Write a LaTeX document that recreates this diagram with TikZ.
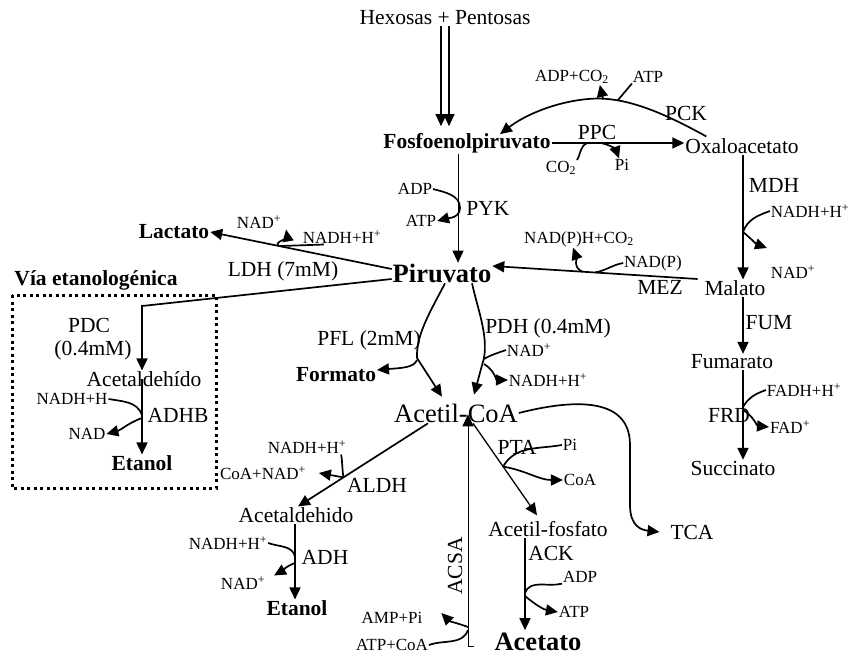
\documentclass[tikz,border=0pt]{standalone}
\usepackage{fontspec}
\setmainfont{Liberation Serif}
\usetikzlibrary{arrows.meta,calc}
\begin{document}
\begin{tikzpicture}[x=1pt,y=-1pt,
  every node/.style={inner sep=1pt, outer sep=0pt},
  lab/.style={font=\fontsize{21.5}{23}\selectfont},
  labb/.style={font=\fontsize{21.5}{23}\selectfont\bfseries},
  big/.style={font=\fontsize{26.5}{28}\selectfont\bfseries},
  bigr/.style={font=\fontsize{26.5}{28}\selectfont},
  sm/.style={font=\fontsize{17}{18}\selectfont},
  ln/.style={line width=1.7pt},
  thinln/.style={line width=1pt},
  tip/.style={-{Triangle[length=12pt,width=11pt]}},
  arr/.style={ln,tip},
  dotbox/.style={line width=3pt,dash pattern=on 3pt off 3.5pt}
]
\useasboundingbox (0,0) rectangle (852,656);

% ---------- text nodes ----------
\node[lab] (hex) at (445,18) {Hexosas + Pentosas};
\node[labb] (pep) at (467,143) {Fosfoenolpiruvato};
\node[lab] (oaa) at (742,146) {Oxaloacetato};
\node[sm] (adpco2) at (572,77) {ADP+CO\textsubscript{2}};
\node[sm] (atp1) at (648,77) {ATP};
\node[lab] (pck) at (686,113) {PCK};
\node[lab] (ppc) at (597,132) {PPC};
\node[sm] (co2) at (561,168) {CO\textsubscript{2}};
\node[sm] (pi1) at (622,165) {Pi};
\node[lab] (mdh) at (774,185) {MDH};
\node[sm] (nadh1) at (810,211) {NADH+H\textsuperscript{+}};
\node[sm] (nad1) at (793,272) {NAD\textsuperscript{+}};
\node[lab] (malato) at (735,288) {Malato};
\node[lab] (mez) at (660,287) {MEZ};
\node[sm] (nadp) at (653,263) {NAD(P)};
\node[sm] (nadph) at (579,239) {NAD(P)H+CO\textsubscript{2}};
\node[big] (pir) at (442,273) {Piruvato};
\node[lab] (pyk) at (488,208) {PYK};
\node[sm] (adp1) at (415,189) {ADP};
\node[sm] (atp2) at (421,221) {ATP};
\node[labb] (lactato) at (174,232) {Lactato};
\node[sm] (nad2) at (259,222) {NAD\textsuperscript{+}};
\node[sm] (nadh2) at (342,237) {NADH+H\textsuperscript{+}};
\node[lab] (ldh) at (283,271) {LDH (7mM)};
\node[labb] (via) at (96,280) {Vía etanologénica};
\node[lab] (pdc) at (89,325) {PDC};
\node[lab] (pdcc) at (93,350) {(0.4mM)};
\node[lab] (acetald1) at (144,379) {Acetaldehído};
\node[sm] (nadh3) at (72,399) {NADH+H};
\node[lab] (adhb) at (178,415) {ADHB};
\node[sm] (nad3) at (87,434) {NAD};
\node[labb] (etanol1) at (142,463) {Etanol};
\node[lab] (fum) at (769,323) {FUM};
\node[lab] (fumarato) at (732,362) {Fumarato};
\node[lab] (frd) at (729,415) {FRD};
\node[sm] (fadh) at (804,390) {FADH+H\textsuperscript{+}};
\node[sm] (fad) at (790,427) {FAD\textsuperscript{+}};
\node[lab] (succinato) at (733,468) {Succinato};
\node[lab] (pfl) at (369,340) {PFL (2mM)};
\node[labb] (formato) at (336,375) {Formato};
\node[lab] (pdh) at (548,328) {PDH (0.4mM)};
\node[sm] (nad4) at (529,350) {NAD\textsuperscript{+}};
\node[sm] (nadh4) at (548,380) {NADH+H\textsuperscript{+}};
\node[bigr] (acetilcoa) at (456,413) {Acetil-CoA};
\node[lab] (tca) at (692,532) {TCA};
\node[lab] (pta) at (517,447) {PTA};
\node[sm] (pi2) at (570,445) {Pi};
\node[sm] (coa) at (580,480) {CoA};
\node[lab] (acetilfos) at (548,529) {Acetil-fosfato};
\node[lab] (ack) at (551,553) {ACK};
\node[sm] (adp2) at (580,577) {ADP};
\node[sm] (atp3) at (574,612) {ATP};
\node[big] (acetato) at (538,642) {Acetato};
\node[lab,rotate=90] (acsa) at (455,566) {ACSA};
\node[sm] (ampPi) at (392,618) {AMP+Pi};
\node[sm] (atpcoa) at (392,645) {ATP+CoA};
\node[sm] (nadh5) at (307,447) {NADH+H\textsuperscript{+}};
\node[sm] (coanad) at (263,473) {CoA+NAD\textsuperscript{+}};
\node[lab] (aldh) at (377,485) {ALDH};
\node[lab] (acetald2) at (296,515) {Acetaldehido};
\node[lab] (adh) at (325,557) {ADH};
\node[sm] (nadh6) at (228,543) {NADH+H\textsuperscript{+}};
\node[sm] (nad6) at (243,583) {NAD\textsuperscript{+}};
\node[labb] (etanol2) at (297,608) {Etanol};

% ---------- dotted box ----------
\draw[dotbox] (12,295) rectangle (216,488);

% ---------- Hexosas -> PEP ----------
\draw[line width=1.3pt,tip] ([xshift=-4pt]hex.south) -- ($([xshift=-4pt]hex.south |- pep.north)+(0,-6)$);
\draw[line width=1.3pt,tip] ([xshift=4pt]hex.south) -- ($([xshift=4pt]hex.south |- pep.north)+(0,-6)$);

% ---------- PEP -> OAA (PPC) ----------
\coordinate (ppcE) at (pep.east -| oaa.west);
\draw[arr] (pep.east) -- (ppcE);
\coordinate (ppc1) at ($(pep.east)!0.27!(ppcE)$);
\coordinate (ppc2) at ($(pep.east)!0.37!(ppcE)$);
\draw[ln] (co2.north east) to[out=60,in=200] (ppc1);
\draw[arr] (ppc2) to[out=-10,in=110] ([xshift=-3pt]pi1.north);

% ---------- PCK ----------
\coordinate (pckS) at ([xshift=22pt,yshift=1pt]oaa.north west);
\coordinate (pckA) at (603,99);
\coordinate (pckB) at (618,100);
\draw[arr] (pckS) .. controls (655,108) and (620,96) .. (588,99)
  .. controls (555,102) and (525,115) .. ([xshift=33pt,yshift=-2pt]pep.north);
\draw[ln] (atp1.south west) -- (pckB);
\draw[arr] (pckA) -- ([xshift=-10pt]adpco2.south east);

% ---------- PYK ----------
\coordinate (pykTop) at ([xshift=-9pt]pep.south);
\coordinate (pykJ) at ([xshift=2pt]pykTop |- pyk.west);
\draw[thinln,tip] (pykTop) -- (pykTop |- pir.north);
\draw[arr] (adp1.east) to[out=-15,in=90] (pykJ) to[out=-90,in=15] (atp2.east);

% ---------- LDH ----------
\coordinate (ldhS) at ([yshift=4pt]pir.west);
\draw[arr] (ldhS) -- (lactato.east);
\coordinate (ldhJ) at ($(ldhS)!0.62!(lactato.east)$);
\draw[ln] (ldhJ) -- ([xshift=22pt]nadh2.south west);
\draw[arr] (ldhJ) to[out=160,in=-80] ([xshift=4pt]nad2.south east);

% ---------- PDC / ADHB ----------
\coordinate (pdcK) at (142,306);
\draw[arr] ([yshift=-6pt]pir.west) -- (pdcK) -- (pdcK |- acetald1.north);
\draw[arr] (pdcK |- acetald1.center) -- (pdcK |- etanol1.north);
\coordinate (adhbJ) at (pdcK |- adhb.west);
\draw[ln] (nadh3.east) to[out=-10,in=110] (adhbJ);
\draw[arr] ([yshift=-3pt]adhbJ) to[out=200,in=15] (nad3.east);

% ---------- MDH / FUM / FRD ----------
\coordinate (colR) at (743,0);
\draw[arr] (oaa.south -| colR) -- (malato.north -| colR);
\coordinate (mdhJ) at (743,232);
\draw[ln] (nadh1.west) to[out=200,in=70] (mdhJ);
\draw[arr] (mdhJ) to[out=-40,in=160] ([xshift=-26pt,yshift=24pt]nad1.center);
\draw[arr] (malato.south -| colR) -- (fumarato.north -| colR);
\draw[arr] (fumarato.south -| colR) -- (succinato.north -| colR);
\coordinate (frdJ) at (743,407);
\draw[ln] (fadh.west) to[out=200,in=60] (frdJ);
\draw[arr] ([yshift=-3pt]frdJ) to[out=-30,in=175] (fad.west);

% ---------- MEZ ----------
\coordinate (mezS) at ([xshift=-6pt,yshift=9pt]malato.west);
\coordinate (mezE) at ([yshift=7pt]pir.east);
\draw[arr] (mezS) -- (mezE);
\coordinate (mezJ) at ($(mezS)!0.5!(mezE)$);
\coordinate (mezJ2) at ($(mezS)!0.56!(mezE)$);
\draw[ln] (nadp.west) to[out=190,in=10] (mezJ);
\draw[arr] (mezJ2) to[out=160,in=-70] ([xshift=-6pt]nadph.south);

% ---------- PFL / PDH ----------
\coordinate (pflS) at ([xshift=3pt]pir.south);
\coordinate (pflJ) at (417,358);
\draw[ln] (pflS) .. controls (430,312) and (416,335) .. (pflJ);
\draw[arr] (pflJ) -- ([xshift=-14pt,yshift=6pt]acetilcoa.north);
\draw[arr] ([yshift=-2pt]pflJ) .. controls (414,368) and (400,368) .. ([yshift=5pt]formato.east);
\coordinate (pdhS) at ([xshift=30pt]pir.south);
\coordinate (pdhJ) at (484,358);
\draw[ln] (pdhS) .. controls (478,310) and (488,335) .. (pdhJ);
\draw[arr] (pdhJ) -- ([xshift=18pt,yshift=8pt]acetilcoa.north);
\draw[ln] (nad4.west) to[out=200,in=30] ([yshift=-1pt]pdhJ);
\draw[arr] ([yshift=-6pt]pdhJ) to[out=-30,in=180] (nadh4.west);

% ---------- TCA ----------
\draw[arr] (acetilcoa.east) .. controls (570,400) and (630,395) .. (630,445)
  -- (630,505) .. controls (630,527) and (642,530) .. ([xshift=-10pt]tca.west);

% ---------- ALDH / ADH ----------
\coordinate (aldhS) at ([xshift=-28pt]acetilcoa.south);
\coordinate (aldhE) at ([xshift=2pt]acetald2.north);
\draw[arr] (aldhS) -- (aldhE);
\coordinate (aldhJ) at ($(aldhS)!0.65!(aldhE)$);
\draw[ln] ([xshift=-6pt]nadh5.south east) to[out=-80,in=100] (aldhJ);
\draw[arr] (aldhJ) to[out=170,in=-10] ([xshift=12pt]coanad.east);
\coordinate (colA) at (295,0);
\draw[arr] (acetald2.south -| colA) -- (etanol2.north -| colA);
\coordinate (adhJ) at (295,557);
\draw[ln] (nadh6.east) to[out=-20,in=100] (adhJ);
\draw[arr] ([yshift=-6pt]adhJ) to[out=200,in=30] ([xshift=8pt]nad6.north east);

% ---------- PTA / ACK ----------
\coordinate (ptaS) at ([xshift=17pt]acetilcoa.south);
\coordinate (ptaE) at ([xshift=-11pt,yshift=5pt]acetilfos.north);
\draw[line width=1.3pt,tip] (ptaS) -- (ptaE);
\coordinate (ptaJ) at ($(ptaS)!0.47!(ptaE)$);
\draw[ln] (pi2.west) to[out=190,in=60] (ptaJ);
\draw[arr] (ptaJ) to[out=-10,in=180] (coa.west);
\coordinate (colK) at (525,0);
\draw[arr] (acetilfos.south -| colK) -- ($(acetato.north -| colK)+(0,-2)$);
\coordinate (ackJ) at (525,593);
\draw[ln] (adp2.south west) to[out=195,in=70] (ackJ);
\draw[arr] ([yshift=-3pt]ackJ) to[out=-40,in=170] (atp3.west);

% ---------- ACSA ----------
\coordinate (acsaC) at (468,646);
\draw[thinln,tip] ([xshift=-20pt,yshift=-4pt]acetato.west) -- (acsaC) -- ($(acsaC |- acetilcoa.south)+(0,-9)$);
\coordinate (acsaJ) at (468,630);
\draw[ln] (atpcoa.east) to[out=20,in=-110] (acsaJ);
\draw[arr] ([yshift=3pt]acsaJ) to[out=160,in=-45] ([xshift=18pt,yshift=5pt]ampPi.east);
\end{tikzpicture}
\end{document}
